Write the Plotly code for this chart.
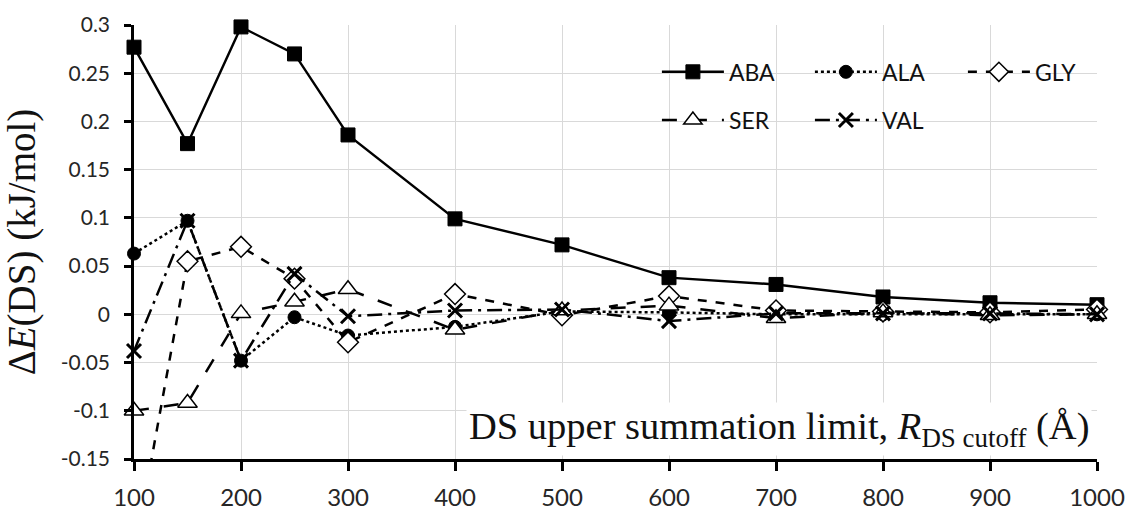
import plotly.graph_objects as go

# ---- data ----
r_cutoff = [100, 150, 200, 250, 300, 400, 500, 600, 700, 800, 900, 1000]
aba = [0.277, 0.177, 0.298, 0.270, 0.186, 0.099, 0.072, 0.038, 0.031, 0.018, 0.012, 0.010]
ala = [0.063, 0.097, -0.048, -0.003, -0.022, -0.013, 0.003, 0.002, 0.000, 0.000, 0.000, 0.000]
gly = [-0.25, 0.055, 0.070, 0.037, -0.029, 0.021, -0.001, 0.019, 0.004, 0.003, 0.002, 0.005]
ser = [-0.100, -0.092, 0.001, 0.013, 0.026, -0.016, 0.004, 0.009, -0.004, 0.002, -0.001, 0.000]
val = [-0.038, 0.097, -0.048, 0.042, -0.002, 0.004, 0.005, -0.007, 0.001, 0.001, 0.001, 0.000]

y_ticks = [-0.15, -0.1, -0.05, 0, 0.05, 0.1, 0.15, 0.2, 0.25, 0.3]
y_tick_text = ["-0.15", "-0.1", "-0.05", "0", "0.05", "0.1", "0.15", "0.2", "0.25", "0.3"]
x_ticks = [100, 200, 300, 400, 500, 600, 700, 800, 900, 1000]

Y_MIN, Y_MAX = -0.15, 0.3

def sizes(vals, s):
    return [s if Y_MIN <= v <= Y_MAX else 0 for v in vals]

fig = go.Figure()

series = [
    ("ABA", aba, "solid", dict(symbol="square", color="black", size=14,
                               line=dict(color="black", width=1)), "legend"),
    ("ALA", ala, "dot", dict(symbol="circle", color="black", size=13,
                             line=dict(color="black", width=1)), "legend"),
    ("GLY", gly, "dash", dict(symbol="diamond", color="white", size=16,
                              line=dict(color="black", width=1.5)), "legend"),
    ("SER", ser, "longdash", dict(symbol="triangle-up", color="white", size=17,
                                  line=dict(color="black", width=1.5)), "legend2"),
    ("VAL", val, "longdashdot", dict(symbol="x-thin", color="black", size=14,
                                     line=dict(color="black", width=3)), "legend2"),
]

for name, ys, dash, mk, lg in series:
    mk = dict(mk)
    mk["size"] = sizes(ys, mk["size"])
    mk["opacity"] = 1
    fig.add_trace(go.Scatter(
        x=r_cutoff, y=ys, name=name, mode="lines+markers",
        line=dict(color="black", width=2.4 if dash == "solid" else 2.5, dash=dash),
        marker=mk, cliponaxis=False, legend=lg,
    ))

legend_common = dict(
    orientation="h", xanchor="left", yanchor="middle",
    font=dict(family="Lato", size=23, color="#111"),
    bgcolor="rgba(0,0,0,0)", itemwidth=62, entrywidth=76,
    tracegroupgap=0, itemclick=False,
)

fig.update_layout(
    width=1131, height=511,
    margin=dict(l=134, r=34, t=25, b=52),
    paper_bgcolor="white", plot_bgcolor="white",
    showlegend=True,
    legend=dict(x=0.543, y=0.892, **legend_common),
    legend2=dict(x=0.543, y=0.781, **legend_common),
    xaxis=dict(
        range=[100, 1000], tickvals=x_ticks, ticktext=[str(v) for v in x_ticks],
        showgrid=True, gridcolor="#d9d9d9", gridwidth=1,
        showline=True, linecolor="black", linewidth=2.5,
        ticks="outside", ticklen=9, tickwidth=2.5, tickcolor="black",
        tickfont=dict(family="Lato", size=24, color="#262626"),
        ticklabelstandoff=6,
        zeroline=False, automargin=False,
    ),
    yaxis=dict(
        range=[Y_MIN, Y_MAX], tickvals=y_ticks, ticktext=y_tick_text,
        showgrid=True, gridcolor="#d9d9d9", gridwidth=1,
        showline=True, linecolor="black", linewidth=2.5,
        ticks="outside", ticklen=7, tickwidth=2.5, tickcolor="black",
        tickfont=dict(family="Lato", size=21, color="#262626"),
        ticklabelstandoff=10,
        zeroline=False, automargin=False,
        title=dict(text="Δ<i>E</i>(DS) (kJ/mol)",
                   font=dict(family="Liberation Serif", size=39, color="#111"),
                   standoff=14),
    ),
    annotations=[dict(
        text="DS upper summation limit, <i>R</i><sub>DS cutoff</sub> (Å)",
        xref="paper", yref="paper", x=0.995, y=0.068,
        xanchor="right", yanchor="middle", showarrow=False,
        font=dict(family="Liberation Serif", size=38.5, color="#111"),
        bgcolor="white", borderpad=2,
    )],
)

# remove the default 8px page margin so the figure fills the window exactly
fig.write_html("out.html", config={"displayModeBar": False},
               post_script="document.body.style.margin='0';")
